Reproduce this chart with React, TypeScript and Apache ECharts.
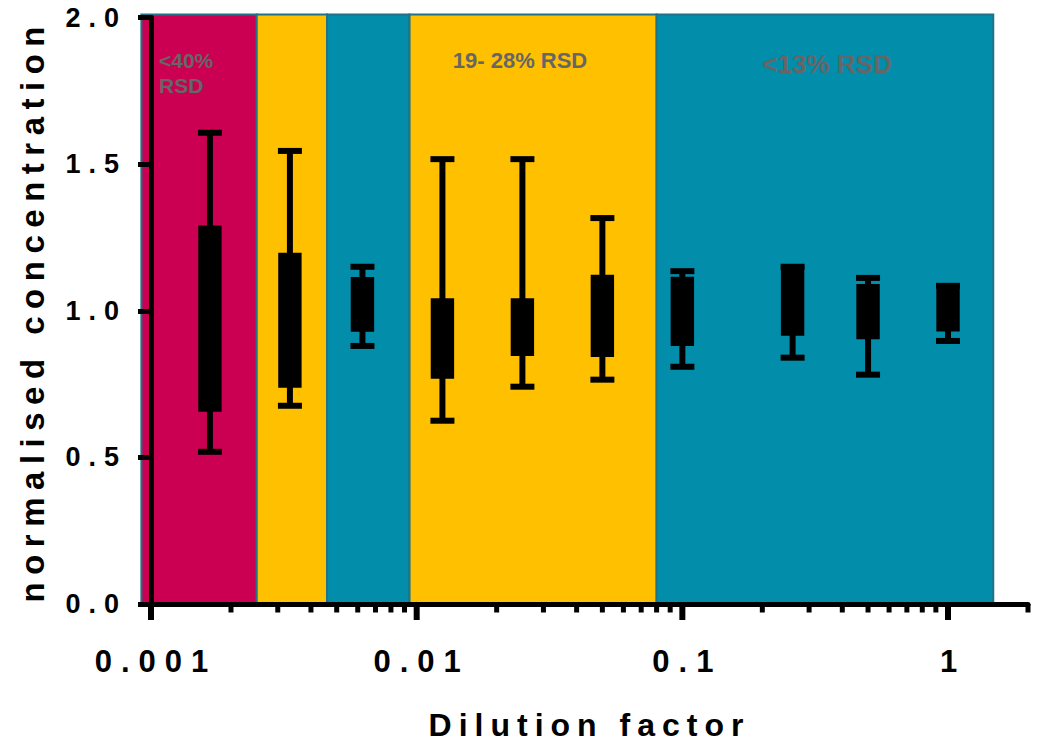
import React, { useEffect, useRef } from 'react';
import * as echarts from 'echarts';

// Dilution factor of each sample set (x, log scale)
const dilutions = [1 / 600, 1 / 300, 1 / 160, 1 / 80, 1 / 40, 1 / 20, 1 / 10, 0.26, 1 / 2, 1];
// Box-and-whisker statistics of the normalised concentration
const whiskerMin = [0.519, 0.676, 0.88, 0.625, 0.741, 0.765, 0.809, 0.84, 0.782, 0.897];
const lowerQuartile = [0.656, 0.737, 0.928, 0.768, 0.846, 0.842, 0.88, 0.915, 0.903, 0.929];
const upperQuartile = [1.291, 1.198, 1.115, 1.043, 1.043, 1.123, 1.116, 1.15, 1.091, 1.085];
const whiskerMax = [1.607, 1.545, 1.15, 1.517, 1.517, 1.316, 1.135, 1.15, 1.112, 1.085];

// RSD background regions along the dilution axis
const bandStart = [0.00092, 0.0025, 0.0046, 0.0094, 0.08];
const bandEnd = [0.0025, 0.0046, 0.0094, 0.08, 1.48];
const bandColors = ['#CC0052', '#FFC000', '#028DAA', '#FFC000', '#028DAA'];
const bandTop = 2.01;

// Axis ticks
const xTickLabels = ['0.001', '0.01', '0.1', '1'];
const majorTicks = [0.001, 0.01, 0.1, 1];
const minorTicks = [
  0.002, 0.003, 0.004, 0.005, 0.006, 0.007, 0.008, 0.009,
  0.02, 0.03, 0.04, 0.05, 0.06, 0.07, 0.08, 0.09,
  0.2, 0.3, 0.4, 0.5, 0.6, 0.7, 0.8, 0.9,
  2,
];

const FONT = 'Liberation Sans, Arial, sans-serif';

const spacingCss = `
#dil-chart text[style*="27px"] { letter-spacing: 8px; }
#dil-chart text[style*="31px"] { letter-spacing: 9px; }
#dil-chart text[style*="32px"] { letter-spacing: 7px; }
#dil-chart text[style*="33px"] { letter-spacing: 7.5px; }
`;

export default function App() {
  const ref = useRef<HTMLDivElement>(null);

  useEffect(() => {
    if (!ref.current) return;
    const chart = echarts.init(ref.current, undefined, { renderer: 'svg' });

    const bandData = bandStart.map((s, i) => [s, bandEnd[i], bandTop, i]);
    const boxData = dilutions.map((d, i) => [
      d,
      whiskerMin[i],
      lowerQuartile[i],
      upperQuartile[i],
      whiskerMax[i],
    ]);
    const tickData = [
      ...majorTicks.map((v) => [v, 0, 1]),
      ...minorTicks.map((v) => [v, 0, 0]),
    ];

    const option: any = {
      animation: false,
      backgroundColor: '#ffffff',
      grid: { left: 151, right: 10, top: 17.5, bottom: 146, containLabel: false },
      xAxis: {
        type: 'log',
        logBase: 10,
        min: 0.001,
        max: 2,
        z: 10,
        name: 'Dilution factor',
        nameLocation: 'middle',
        nameGap: 105,
        nameTextStyle: { fontSize: 32, fontWeight: 'bold', color: '#000', fontFamily: FONT },
        axisLine: { show: true, lineStyle: { color: '#000', width: 5 } },
        axisTick: { show: false },
        minorTick: { show: false },
        splitLine: { show: false },
        axisLabel: {
          interval: 0,
          margin: 42,
          fontSize: 31,
          fontWeight: 'bold',
          color: '#000',
          fontFamily: FONT,
          padding: [0, 0, 0, 10],
          formatter: (v: number) => {
            const lg = Math.log10(v);
            const r = Math.round(lg);
            if (Math.abs(lg - r) > 1e-6) return '';
            return xTickLabels[r + 3] ?? '';
          },
        },
      },
      yAxis: {
        type: 'value',
        min: 0,
        max: 2,
        interval: 0.5,
        z: 10,
        name: 'normalised concentration',
        nameLocation: 'middle',
        nameGap: 102,
        nameRotate: 90,
        nameTextStyle: { fontSize: 33, fontWeight: 'bold', color: '#000', fontFamily: FONT },
        axisLine: { show: true, lineStyle: { color: '#000', width: 5 } },
        axisTick: { show: true, length: 13, lineStyle: { color: '#000', width: 5 } },
        splitLine: { show: false },
        axisLabel: {
          margin: 24,
          fontSize: 27,
          fontWeight: 'bold',
          color: '#000',
          fontFamily: FONT,
          formatter: (v: number) => v.toFixed(1),
        },
      },
      graphic: [
        {
          type: 'text',
          z: 50,
          left: 159,
          top: 48,
          style: {
            text: '<40%\nRSD',
            font: `bold 21px ${FONT}`,
            fill: '#666666',
            lineHeight: 25,
          },
        },
        {
          type: 'text',
          z: 50,
          x: 520,
          y: 60.5,
          style: {
            text: '19- 28% RSD',
            font: `bold 22px ${FONT}`,
            fill: '#666666',
            align: 'center',
            verticalAlign: 'middle',
          },
        },
        {
          type: 'text',
          z: 50,
          x: 827,
          y: 64,
          style: {
            text: '<13% RSD',
            font: `bold 26px ${FONT}`,
            fill: '#666666',
            align: 'center',
            verticalAlign: 'middle',
          },
        },
      ],
      series: [
        {
          type: 'custom',
          name: 'RSD regions',
          z: 1,
          clip: false,
          silent: true,
          encode: { x: [0, 1], y: 2 },
          data: bandData,
          renderItem: (_p: any, api: any) => {
            const a = api.coord([api.value(0), api.value(2)]);
            const b = api.coord([api.value(1), 0]);
            return {
              type: 'rect',
              shape: { x: a[0], y: a[1], width: b[0] - a[0], height: b[1] - a[1] },
              style: {
                fill: bandColors[api.value(3)],
                stroke: '#1F7388',
                lineWidth: 2,
              },
            };
          },
        },
        {
          type: 'custom',
          name: 'normalised concentration',
          z: 5,
          clip: false,
          encode: { x: 0, y: [1, 2, 3, 4] },
          data: boxData,
          renderItem: (_p: any, api: any) => {
            const x = api.value(0);
            const pMin = api.coord([x, api.value(1)]);
            const pQ1 = api.coord([x, api.value(2)]);
            const pQ3 = api.coord([x, api.value(3)]);
            const pMax = api.coord([x, api.value(4)]);
            const cx = pMin[0];
            const capHalf = 12;
            const boxHalf = 11.7;
            const stroke = { stroke: '#000', lineWidth: 6 };
            return {
              type: 'group',
              children: [
                { type: 'line', shape: { x1: cx, y1: pMax[1], x2: cx, y2: pMin[1] }, style: stroke },
                { type: 'line', shape: { x1: cx - capHalf, y1: pMax[1], x2: cx + capHalf, y2: pMax[1] }, style: stroke },
                { type: 'line', shape: { x1: cx - capHalf, y1: pMin[1], x2: cx + capHalf, y2: pMin[1] }, style: stroke },
                {
                  type: 'rect',
                  shape: { x: cx - boxHalf, y: pQ3[1], width: boxHalf * 2, height: pQ1[1] - pQ3[1] },
                  style: { fill: '#000' },
                },
              ],
            };
          },
        },
        {
          type: 'custom',
          name: 'x ticks',
          z: 11,
          clip: false,
          silent: true,
          encode: { x: 0, y: 1 },
          data: tickData,
          renderItem: (_p: any, api: any) => {
            const p = api.coord([api.value(0), api.value(1)]);
            const major = api.value(2) === 1;
            return {
              type: 'line',
              shape: { x1: p[0], y1: p[1], x2: p[0], y2: p[1] + (major ? 16 : 8.5) },
              style: { stroke: '#000', lineWidth: major ? 6 : 5 },
            };
          },
        },
      ],
    };

    chart.setOption(option);
    return () => chart.dispose();
  }, []);

  return (
    <>
      <style>{spacingCss}</style>
      <div
        id="dil-chart"
        ref={ref}
        style={{ position: 'fixed', left: 0, top: 0, width: 1038, height: 750 }}
      />
    </>
  );
}
